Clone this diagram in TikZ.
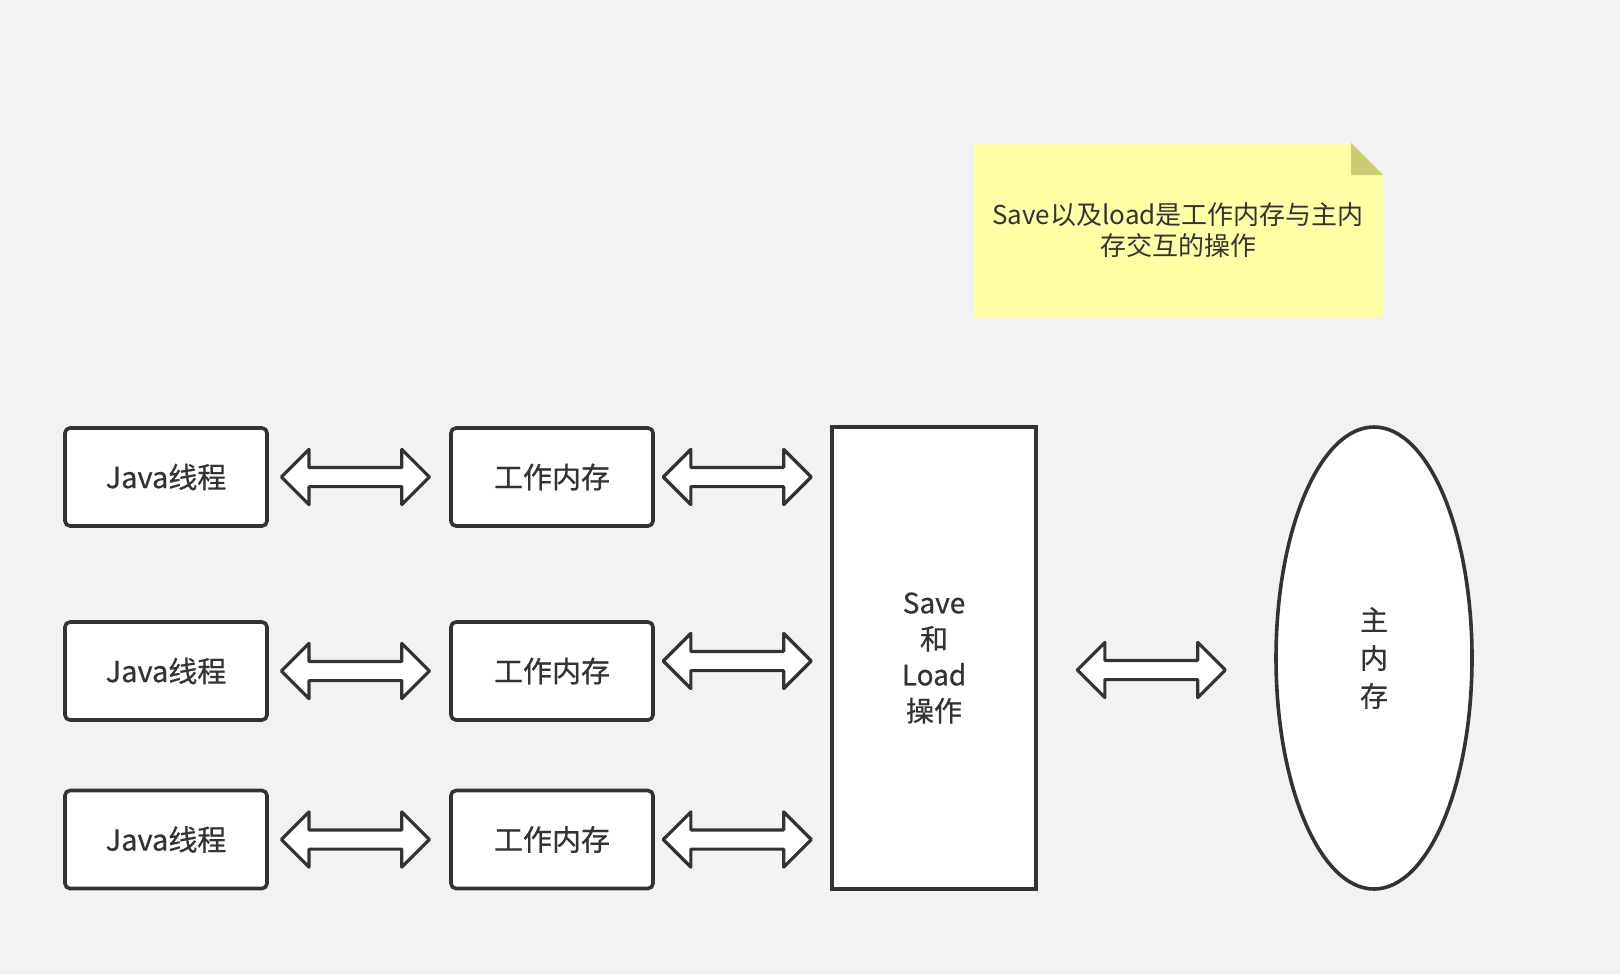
\documentclass[tikz,border=0pt]{standalone}
\usepackage{fontspec}
\setmainfont{Noto Sans CJK SC}
\newfontfamily\boxfont[FakeBold=0.6]{Noto Sans CJK SC}
\usetikzlibrary{shapes.geometric,shapes.arrows,calc}

\definecolor{bg}{HTML}{F2F2F2}
\definecolor{ink}{HTML}{333333}
\definecolor{notefill}{HTML}{FFFFA6}
\definecolor{notefold}{HTML}{CCCC77}

\tikzset{
	box/.style={draw=ink, line width=1.8pt, fill=white, rounded corners=2.5pt, inner sep=0pt,
		minimum width=101pt, minimum height=49pt, text=ink, font=\boxfont\fontsize{14.5}{17}\selectfont},
	dblarrow/.style={double arrow, draw=ink, fill=white, line width=1.6pt, line join=round,
		inner xsep=0pt, inner ysep=4pt, minimum height=74pt, minimum width=26pt,
		double arrow head extend=9pt},
}

\begin{document}
\begin{tikzpicture}[x=0.5pt, y=-0.5pt]
		\fill[bg] (0, 0) rectangle (1620, 974);
		
		\fill[notefill] (974, 143) -- (1351, 143) -- (1383, 175) -- (1383, 317) -- (974, 317) -- cycle;
		\fill[notefold] (1351, 143) -- (1351, 175) -- (1383, 175) -- cycle;
		\node[text=ink, align=center, font=\fontsize{13}{15.5}\selectfont] (note) at (1178, 230)
			{Save以及load是工作内存与主内\\存交互的操作};
		
		\node[box] (thread1) at (166, 477) {Java线程};
		\node[box] (thread2) at (166, 671) {Java线程};
		\node[box] (thread3) at (166, 839.5) {Java线程};
		
		\node[box] (mem1) at (552, 477) {工作内存};
		\node[box] (mem2) at (552, 671) {工作内存};
		\node[box] (mem3) at (552, 839.5) {工作内存};
		
		\node[box, rounded corners=0pt, minimum width=102pt, minimum height=231pt,
			align=center, font=\boxfont\fontsize{14}{18}\selectfont] (saveload) at (934, 658) {Save\\和\\Load\\操作};
		
		\node[box, ellipse, minimum width=98pt, minimum height=231pt, align=center,
			font=\boxfont\fontsize{14}{19}\selectfont] (mainmem) at (1374, 658) {主\\内\\存};
		
		\node[dblarrow] (arr11) at ($(thread1.east)!0.48!(mem1.west)$) {};
		\node[dblarrow] (arr12) at ($(thread2.east)!0.48!(mem2.west)$) {};
		\node[dblarrow] (arr13) at ($(thread3.east)!0.48!(mem3.west)$) {};
		
		\node[dblarrow] (arr21) at ($(mem1.east)!0.47!(saveload.west |- mem1)$) {};
		\node[dblarrow, yshift=5pt] (arr22) at ($(mem2.east)!0.47!(saveload.west |- mem2)$) {};
		\node[dblarrow] (arr23) at ($(mem3.east)!0.47!(saveload.west |- mem3)$) {};
		
		\node[dblarrow, yshift=-6pt] (arr3) at ($(saveload.east)!0.48!(mainmem.west)$) {};
	\end{tikzpicture}
\end{document}
